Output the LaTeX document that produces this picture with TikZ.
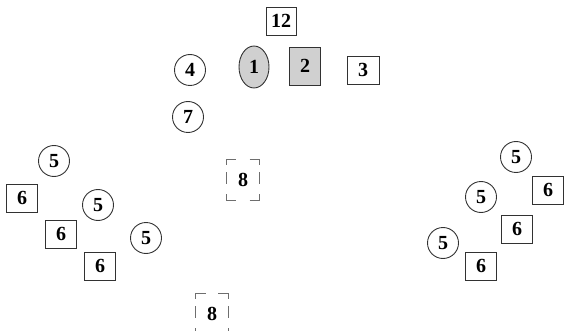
\documentclass[tikz,border=0pt]{standalone}
\usepackage{fontspec}
\setmainfont{Liberation Serif}
\usetikzlibrary{shapes.geometric}
\definecolor{inkgray}{RGB}{50,50,50}
\definecolor{shadegray}{RGB}{208,208,208}
\definecolor{dashgray}{RGB}{110,110,110}

\begin{document}
\begin{tikzpicture}[x=1pt, y=-1pt,
    every node/.style={font=\fontsize{20}{22}\selectfont\bfseries, inner sep=0pt},
    ring/.style={circle, draw=inkgray, line width=0.9pt, minimum size=31pt},
    oval/.style={ellipse, draw=inkgray, line width=0.9pt, fill=shadegray, minimum width=30pt, minimum height=42pt},
    sqbox/.style={rectangle, draw=inkgray, line width=0.9pt, minimum width=31pt, minimum height=28pt},
    openbox/.style={rectangle, minimum width=32pt, minimum height=40pt},
    brk/.style={draw=dashgray, line width=0.9pt}
]
\useasboundingbox (0,0) rectangle (564,331);

% top group
\node[sqbox, minimum width=30pt] (n12) at (281,21) {12};
\node[oval] (n1) at (254,67) {1};
\node[sqbox, fill=shadegray, minimum height=38pt] (n2) at (305,66) {2};
\node[sqbox, minimum width=32pt] (n3) at (363,70) {3};
\node[ring] (n4) at (190,70) {4};
\node[ring] (n7) at (188,117) {7};

% left group
\node[ring] (l5a) at (54,161) {5};
\node[ring] (l5b) at (98,205) {5};
\node[ring] (l5c) at (146,238) {5};
\node[sqbox] (l6a) at (22,198) {6};
\node[sqbox] (l6b) at (61,234) {6};
\node[sqbox] (l6c) at (100,266) {6};

% right group
\node[ring] (r5a) at (516,157) {5};
\node[ring] (r5b) at (481,197) {5};
\node[ring] (r5c) at (443,243) {5};
\node[sqbox] (r6a) at (548,190) {6};
\node[sqbox] (r6b) at (517,229) {6};
\node[sqbox] (r6c) at (481,266) {6};

% open boxes
\node[openbox, minimum width=33pt] (n8a) at (243,180) {8};
\node[openbox] (n8b) at (212,314) {8};

\foreach \b in {n8a,n8b}{
  \draw[brk] ([shift={(0,5)}]\b.north west) -- (\b.north west) -- ([shift={(10,0)}]\b.north west);
  \draw[brk] ([shift={(-10,0)}]\b.north east) -- (\b.north east) -- ([shift={(0,5)}]\b.north east);
  \draw[brk] ([shift={(0,-6)}]\b.south west) -- (\b.south west) -- ([shift={(10,0)}]\b.south west);
  \draw[brk] ([shift={(-10,0)}]\b.south east) -- (\b.south east) -- ([shift={(0,-6)}]\b.south east);
  \draw[brk] ([shift={(0,-8)}]\b.west) -- ([shift={(0,4)}]\b.west);
  \draw[brk] ([shift={(0,-8)}]\b.east) -- ([shift={(0,4)}]\b.east);
}

\end{tikzpicture}
\end{document}
